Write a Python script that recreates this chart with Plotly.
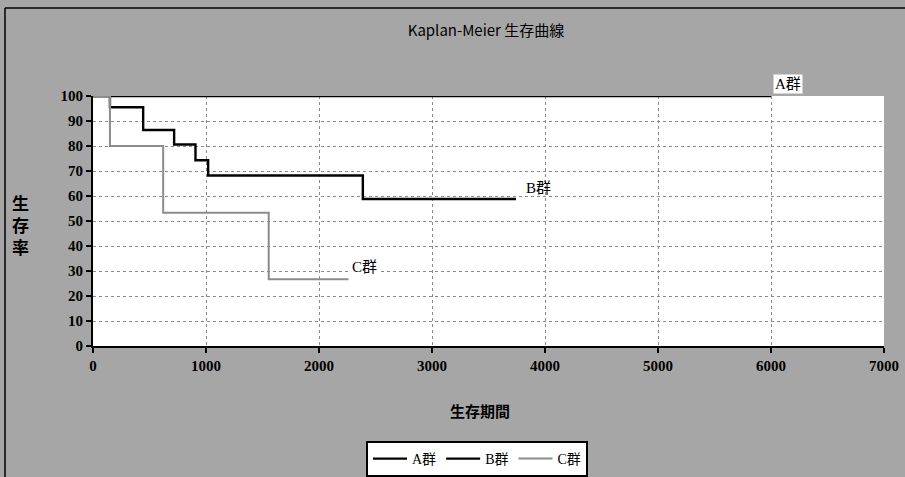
import plotly.graph_objects as go

# Kaplan-Meier step data (time in days, survival in %)
a_time = [0, 6000]
a_surv = [100, 100]

b_time = [0, 150, 444, 718, 907, 1019, 2388, 3743]
b_surv = [100, 95.5, 86.4, 80.6, 74.3, 68.2, 58.8, 58.8]

c_time = [0, 150, 621, 1555, 2261]
c_surv = [100, 80, 53.3, 26.7, 26.7]

group_names = ["A群", "B群", "C群"]
x_ticks = [0, 1000, 2000, 3000, 4000, 5000, 6000, 7000]
y_ticks = [0, 10, 20, 30, 40, 50, 60, 70, 80, 90, 100]

SERIF = "Liberation Serif, Noto Sans CJK JP, serif"
SANS = "Noto Sans CJK JP, Liberation Sans, sans-serif"

# plot-area geometry in pixels (used for paper-referenced items)
L, R, T, B = 93, 884, 96, 346
PW, PH = R - L, B - T


def px_x(px):
    return (px - L) / PW


def px_y(py):
    return (B - py) / PH


fig = go.Figure()
fig.add_trace(go.Scatter(x=a_time, y=a_surv, mode="lines", name=group_names[0],
                         line=dict(color="black", width=2.4, shape="hv")))
fig.add_trace(go.Scatter(x=b_time, y=b_surv, mode="lines", name=group_names[1],
                         line=dict(color="black", width=2.4, shape="hv")))
fig.add_trace(go.Scatter(x=c_time, y=c_surv, mode="lines", name=group_names[2],
                         line=dict(color="#8c8c8c", width=2, shape="hv")))

# group labels next to each curve
fig.add_annotation(x=px_x(773), y=px_y(84), xref="paper", yref="paper",
                   text="A群", showarrow=False, xanchor="left", yanchor="middle",
                   bgcolor="white", borderpad=1,
                   font=dict(family=SERIF, size=15, color="black"))
fig.add_annotation(x=3810, y=63.2, text="B群", showarrow=False, xanchor="left",
                   yanchor="middle", font=dict(family=SERIF, size=15, color="black"))
fig.add_annotation(x=2270, y=31.5, text="C群", showarrow=False, xanchor="left",
                   yanchor="middle", bgcolor="white",
                   font=dict(family=SERIF, size=15, color="black"))

# vertical y-axis title
fig.add_annotation(x=px_x(20), y=px_y(226), xref="paper", yref="paper",
                   text="<b>生<br>存<br>率</b>", showarrow=False,
                   xanchor="center", yanchor="middle",
                   font=dict(family=SERIF, size=17, color="black"))

# x-axis title
fig.add_annotation(x=px_x(480), y=px_y(411), xref="paper", yref="paper",
                   text="<b>生存期間</b>", showarrow=False,
                   xanchor="center", yanchor="middle",
                   font=dict(family=SERIF, size=15, color="black"))

# outer chart frame (top and left edges)
frame = dict(color="black", width=1.5)
fig.add_shape(type="line", xref="paper", yref="paper",
              x0=px_x(5), x1=px_x(905), y0=px_y(8), y1=px_y(8), line=frame)
fig.add_shape(type="line", xref="paper", yref="paper",
              x0=px_x(5), x1=px_x(5), y0=px_y(8), y1=px_y(477), line=frame)

grid = dict(showgrid=True, gridcolor="#8a8a8a", griddash="dot", gridwidth=1.2)
tickfont = dict(family=SERIF, size=15, color="black", weight="bold")

fig.update_layout(
    width=905, height=477,
    margin=dict(l=L, r=905 - R, t=T, b=477 - B, autoexpand=False),
    paper_bgcolor="#a6a6a6",
    plot_bgcolor="white",
    title=dict(text="Kaplan-Meier 生存曲線", x=486 / 905, xanchor="center",
               y=1 - 31 / 477, yanchor="middle",
               font=dict(family=SANS, size=15, color="black")),
    xaxis=dict(range=[0, 7000], tickvals=x_ticks, ticks="outside", ticklen=5,
               tickwidth=2, tickcolor="black", showline=True, linecolor="black",
               linewidth=2, zeroline=False, tickfont=tickfont, **grid),
    yaxis=dict(range=[0, 100], tickvals=y_ticks, ticks="outside", ticklen=5,
               tickwidth=2, tickcolor="black", showline=True, linecolor="black",
               linewidth=2, zeroline=False, tickfont=tickfont, **grid),
    legend=dict(orientation="h", x=px_x(477), xanchor="center", y=px_y(441),
                yanchor="top", bgcolor="white", bordercolor="black",
                borderwidth=2, font=dict(family=SERIF, size=14, color="black"),
                itemwidth=34, tracegroupgap=0, valign="middle"),
    showlegend=True,
)

fig.write_html("out.html")
